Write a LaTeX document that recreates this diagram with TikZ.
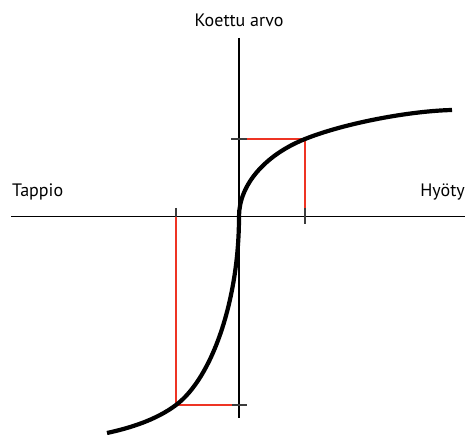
\documentclass[tikz,border=0pt]{standalone}
\usepackage{fontspec}
\setmainfont{PT Sans}
\definecolor{redline}{RGB}{238,52,36}
\definecolor{tickgray}{RGB}{60,60,60}
\begin{document}
\begin{tikzpicture}[x=1pt,y=-1pt,
  axis/.style={line width=1.9pt,black},
  curve/.style={line width=4.2pt,black},
  guide/.style={line width=1.8pt,redline},
  tickmark/.style={line width=1.6pt,tickgray},
  lbl/.style={inner sep=0pt,font=\fontsize{18}{20}\selectfont}]
\useasboundingbox (0,0) rectangle (465,435);
% axes
\coordinate (xl) at (11,216.5);
\coordinate (xr) at (465,216.5);
\coordinate (yt) at (239,38);
\coordinate (yb) at (239,418);
\coordinate (o) at (239,216.5);
\draw[axis] (xl) -- (xr);
\draw[axis] (yt) -- (yb);
% labels
\node[lbl,anchor=base] (ylab) at (239,27) {Koettu arvo};
\node[lbl,anchor=base west] (loss) at (12,197) {Tappio};
\node[lbl,anchor=base east] (gain) at (465,197) {Hyöty};
% guide lines
\coordinate (pu) at (305,139);
\coordinate (pl) at (176,405);
\draw[guide] (247,139) -- (pu) -- (305,208);
\draw[tickmark] (231,139) -- (247,139);
\draw[tickmark] (305,208) -- (305,224);
\draw[guide] (176,216.5) -- (pl) -- (232,405);
\draw[tickmark] (176,208) -- (176,217);
\draw[tickmark] (232,405) -- (247,405);
% value curve
\draw[curve] (107,433) .. controls (130,428) and (156,420) .. (pl)
  .. controls (212,378) and (239,300) .. (o)
  .. controls (239,185) and (265,155) .. (pu)
  .. controls (345,123) and (410,111) .. (452,110);
\end{tikzpicture}
\end{document}
